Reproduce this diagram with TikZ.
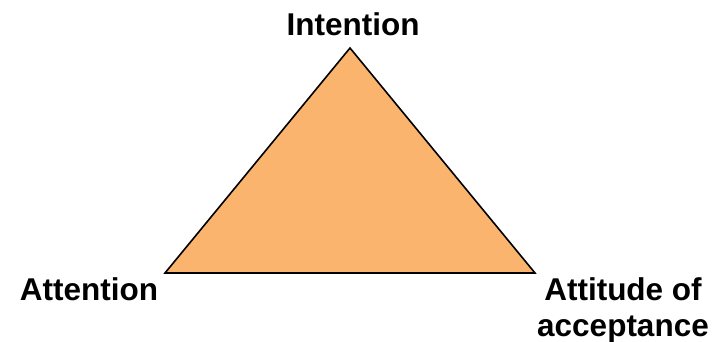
\documentclass[tikz,border=0pt]{standalone}
\usepackage{fontspec}
\setmainfont{Liberation Sans}
\definecolor{tri}{HTML}{FBB46E}
\begin{document}
\begin{tikzpicture}[x=1pt,y=-1pt,
  lbl/.style={font=\fontsize{31.5}{36}\selectfont\bfseries, inner sep=0pt, align=center}]
\useasboundingbox (0,0) rectangle (722,342);
\coordinate (top) at (350,48);
\coordinate (bl) at (165,273);
\coordinate (br) at (535,273);
\draw[fill=tri, line width=1.6pt, line join=miter] (top) -- (bl) -- (br) -- cycle;
\node[lbl, anchor=base] (int) at (353,36) {Intention};
\node[lbl, anchor=base] (att) at (89,300) {Attention};
\node[lbl, anchor=base] (acc) at (623,336) {Attitude of\\acceptance};
\end{tikzpicture}
\end{document}
